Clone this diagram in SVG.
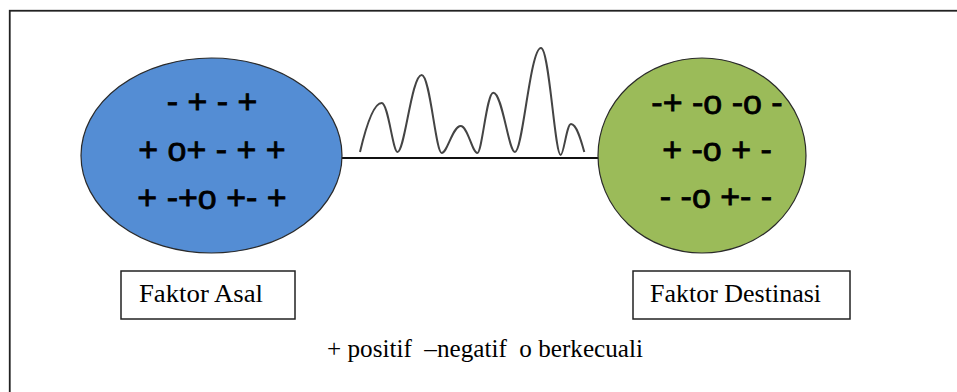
<svg xmlns="http://www.w3.org/2000/svg" width="957" height="392" viewBox="0 0 957 392">
<style>
.sym{font-family:"Liberation Sans",Arial,sans-serif;font-size:34px;fill:#000;stroke:#000;stroke-width:0.8;text-anchor:middle;white-space:pre}
.lbl{font-family:"Liberation Serif","Times New Roman",serif;font-size:25px;fill:#000;white-space:pre}
.box{fill:#fff;stroke:#222;stroke-width:1.5}
.ell{stroke:#2a2a2a;stroke-width:1.2}
</style>
<rect x="0" y="0" width="957" height="392" fill="#fff"/>
<rect x="9.75" y="10.75" width="1000" height="500" fill="none" stroke="#222" stroke-width="1.8"/>
<g id="connectors">
<line x1="342" y1="158" x2="599" y2="158" stroke="#111" stroke-width="2"/>
<path d="M360,152 C364,135 372.6,103 381.7,103 C388.3,103 392.8,152 397.5,152 C404.8,152 411.5,75 421.7,75 C430.1,75 435.7,153 441.7,153 C447.4,153 452.7,126 460.7,126 C467.7,126 472.3,153 477.3,153 C482.1,153 486.6,92.7 493.3,92.7 C502.4,92.7 508.5,152 515,152 C522.8,152 530.1,48 541,48 C549.3,48 554.8,155 560.7,155 C563.8,155 566.7,124 571,124 C576.6,124 581,140 584.3,152" fill="none" stroke="#444" stroke-width="2"/>
</g>
<g id="node-asal">
<ellipse class="ell" cx="211.5" cy="155.5" rx="130.5" ry="97.5" fill="#548DD4"/>
<text class="sym" x="212" y="113">- + - +</text>
<text class="sym" x="212" y="161">+ o+ - + +</text>
<text class="sym" x="212" y="209">+ -+o +- +</text>
</g>
<g id="node-destinasi">
<ellipse class="ell" cx="702" cy="155.5" rx="104" ry="97.5" fill="#9BBB59"/>
<text class="sym" x="717" y="114">-+ -o -o -</text>
<text class="sym" x="717" y="161">+ -o + -</text>
<text class="sym" x="716" y="208">- -o +- -</text>
</g>
<g id="label-asal">
<rect class="box" x="121" y="271" width="174" height="48"/>
<text class="lbl" x="139" y="302" textLength="124" lengthAdjust="spacingAndGlyphs">Faktor Asal</text>
</g>
<g id="label-destinasi">
<rect class="box" x="633" y="271" width="217" height="48"/>
<text class="lbl" x="650" y="302" textLength="171" lengthAdjust="spacingAndGlyphs">Faktor Destinasi</text>
</g>
<g id="legend">
<text class="lbl" x="327" y="357" textLength="316" lengthAdjust="spacingAndGlyphs">+ positif  –negatif  o berkecuali</text>
</g>
</svg>
